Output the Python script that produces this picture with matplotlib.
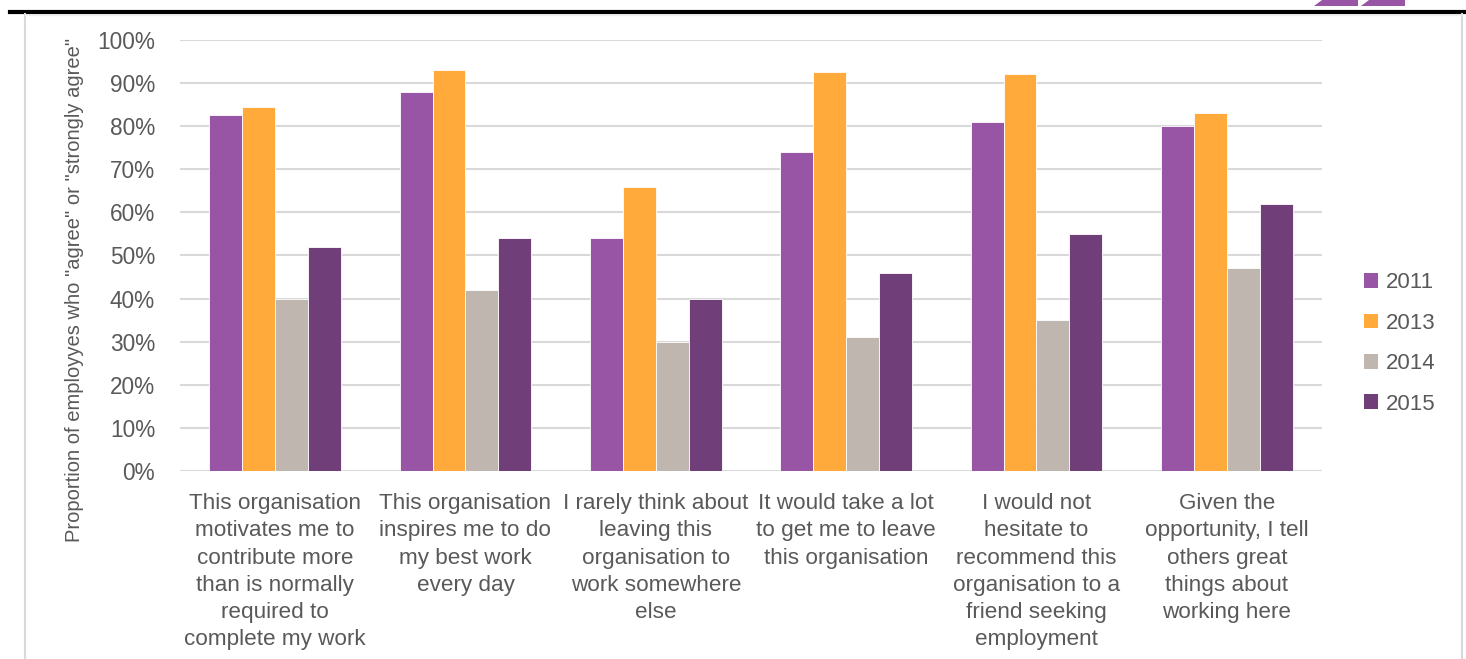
import matplotlib
matplotlib.use("Agg")
import matplotlib.pyplot as plt
from matplotlib.lines import Line2D
from matplotlib.patches import Polygon, Patch
import numpy as np

categories = [
    "This organisation\nmotivates me to\ncontribute more\nthan is normally\nrequired to\ncomplete my work",
    "This organisation\ninspires me to do\nmy best work\nevery day",
    "I rarely think about\nleaving this\norganisation to\nwork somewhere\nelse",
    "It would take a lot\nto get me to leave\nthis organisation",
    "I would not\nhesitate to\nrecommend this\norganisation to a\nfriend seeking\nemployment",
    "Given the\nopportunity, I tell\nothers great\nthings about\nworking here",
]
years = ["2011", "2013", "2014", "2015"]
v2011 = [82.5, 88, 54, 74, 81, 80]
v2013 = [84.5, 93, 66, 92.5, 92, 83]
v2014 = [40, 42, 30, 31, 35, 47]
v2015 = [52, 54, 40, 46, 55, 62]
series = [v2011, v2013, v2014, v2015]
colors = ["#9955A5", "#FFAA3A", "#BFB6B0", "#703F7A"]
yticks = [0, 10, 20, 30, 40, 50, 60, 70, 80, 90, 100]

text_color = "#595959"
plt.rcParams["font.family"] = ["Liberation Sans", "DejaVu Sans"]

W, H = 1466, 659
fig = plt.figure(figsize=(W / 100, H / 100), dpi=100)
ax = fig.add_axes([180 / W, 1 - 471 / H, (1322 - 180) / W, (471 - 40) / H])

n = len(categories)
x = np.arange(n)
bw = 0.173
for i, (vals, col, yr) in enumerate(zip(series, colors, years)):
    ax.bar(x + (i - 1.5) * bw, vals, width=bw, color=col, edgecolor="white",
           linewidth=0.6, label=yr, zorder=3)

ax.set_xlim(-0.5, n - 0.5)
ax.set_ylim(0, 100)
ax.set_yticks(yticks)
ax.set_yticklabels([f"{t}%" for t in yticks], fontsize=16.3, color=text_color)
ax.set_xticks(x)
ax.set_xticklabels(categories, fontsize=16.2, color=text_color, linespacing=1.39)
ax.tick_params(axis="both", length=0)
ax.tick_params(axis="y", pad=18)
ax.tick_params(axis="x", pad=16)
ax.yaxis.grid(True, color="#D9D9D9", linewidth=1.5, zorder=0)
for s in ax.spines.values():
    s.set_visible(False)

fig.text(75 / W, 1 - 290 / H, 'Proportion of employyes who "agree" or "strongly agree"',
         rotation=90, ha="center", va="center", fontsize=14.5, color=text_color,
         family=["Liberation Sans Narrow", "Liberation Sans", "DejaVu Sans"])

handles = [Patch(facecolor=c, edgecolor="none") for c in colors]
fig.legend(handles, years, loc="center left", bbox_to_anchor=(1355 / W, 1 - 343.5 / H),
           frameon=False, fontsize=16, labelcolor=text_color, handlelength=0.65,
           handleheight=0.65, handletextpad=0.35, labelspacing=0.87, borderaxespad=0)

# page frame
fig.add_artist(Line2D([10 / W, 1], [1 - 12 / H, 1 - 12 / H], color="black", linewidth=3))
fig.add_artist(Line2D([25 / W, 25 / W], [0, 1 - 14 / H], color="#D9D9D9", linewidth=1.5))
fig.add_artist(Line2D([1462 / W, 1462 / W], [0, 1 - 14 / H], color="#D9D9D9", linewidth=1.5))
fig.add_artist(Line2D([25 / W, 1462 / W], [1 - 15 / H, 1 - 15 / H], color="#EEEEEE", linewidth=1))
for x0 in (1314, 1361):
    pts = [(x0 / W, 1 - 6 / H), ((x0 + 8) / W, 1), ((x0 + 44) / W, 1), ((x0 + 44) / W, 1 - 6 / H)]
    fig.add_artist(Polygon(pts, closed=True, facecolor="#9955A5", edgecolor="none",
                           transform=fig.transFigure))

fig.savefig("out.png", dpi=100, facecolor="white")
